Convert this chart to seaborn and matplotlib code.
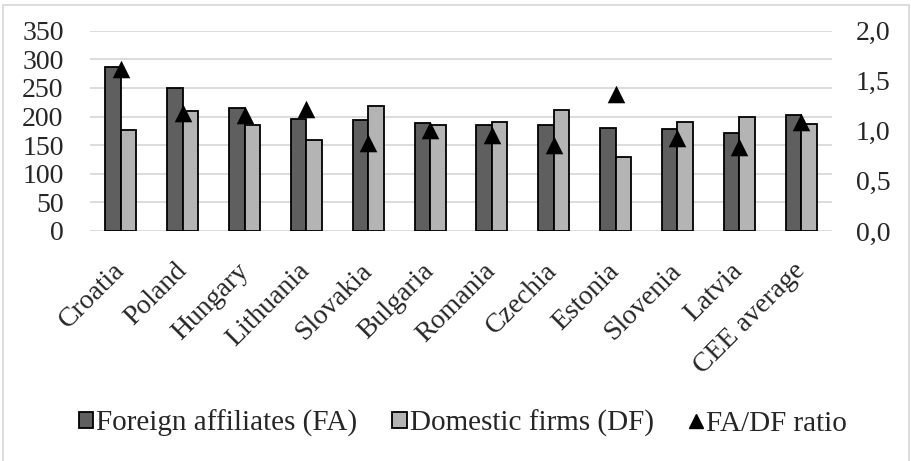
import numpy as np
import pandas as pd
import matplotlib
matplotlib.use("Agg")
import matplotlib.pyplot as plt
import seaborn as sns
from matplotlib.patches import Patch, Rectangle
from matplotlib.lines import Line2D
from matplotlib.ticker import FuncFormatter

countries = ["Croatia", "Poland", "Hungary", "Lithuania", "Slovakia", "Bulgaria",
             "Romania", "Czechia", "Estonia", "Slovenia", "Latvia", "CEE average"]
foreign_affiliates = [287, 249, 215, 196, 194, 188, 185, 185, 180, 178, 171, 203]
domestic_firms = [176, 210, 185, 159, 218, 186, 191, 212, 130, 190, 200, 187]
fa_df_ratio = [1.62, 1.18, 1.16, 1.22, 0.88, 1.01, 0.96, 0.86, 1.37, 0.93, 0.84, 1.09]

series_names = ["Foreign affiliates (FA)", "Domestic firms (DF)"]
ratio_name = "FA/DF ratio"
bar_colors = ["#5f5f5f", "#b4b4b4"]
grid_color = "#d9d9d9"

sns.set_theme(style="white")
plt.rcParams["font.family"] = ["Liberation Serif", "DejaVu Serif"]
plt.rcParams["font.size"] = 20

df = pd.DataFrame({
    "country": countries * 2,
    "value": foreign_affiliates + domestic_firms,
    "series": [series_names[0]] * len(countries) + [series_names[1]] * len(countries),
})

fig = plt.figure(figsize=(9.11, 4.61), dpi=100)
ax = fig.add_axes([0.0988, 0.499, 0.8145, 0.4345])

sns.barplot(data=df, x="country", y="value", hue="series", order=countries,
            hue_order=series_names, palette=bar_colors, width=0.5,
            edgecolor="black", linewidth=1.3, ax=ax, legend=False)

ax.set_ylim(0, 350)
ax.set_yticks(np.arange(0, 351, 50))
ax.yaxis.grid(True, color=grid_color, linewidth=1.3)
ax.set_axisbelow(True)
for s in ax.spines.values():
    s.set_visible(False)
ax.set_xlabel("")
ax.set_ylabel("")
ax.tick_params(axis="y", length=0, pad=19, labelsize=20)
ax.tick_params(axis="x", length=0, pad=26, labelsize=20)
plt.setp(ax.get_xticklabels(), rotation=45, ha="right", va="center",
         rotation_mode="anchor")

ax2 = ax.twinx()
sns.scatterplot(x=np.arange(len(countries)), y=fa_df_ratio, marker="^", s=160,
                color="black", edgecolor="black", linewidth=0, ax=ax2, zorder=5)
ax2.set_ylim(0, 2.0)
ax2.set_yticks(np.arange(0, 2.01, 0.5))
ax2.yaxis.set_major_formatter(FuncFormatter(lambda v, _: f"{v:.1f}".replace(".", ",")))
ax2.tick_params(axis="y", length=0, pad=17, labelsize=20)
ax2.grid(False)
for s in ax2.spines.values():
    s.set_visible(False)
ax.set_xlim(-0.5, len(countries) - 0.5)

handles = [
    Patch(facecolor=bar_colors[0], edgecolor="black", linewidth=1.3),
    Patch(facecolor=bar_colors[1], edgecolor="black", linewidth=1.3),
    Line2D([], [], linestyle="none", marker="^", color="black", markersize=9.5),
]
fig.legend(handles, series_names + [ratio_name], loc="center",
           bbox_to_anchor=(0.508, 0.082), ncol=3, frameon=False, fontsize=21,
           handlelength=0.5, handleheight=0.5, handletextpad=0.1,
           columnspacing=1.2, borderpad=0, borderaxespad=0)

fig.patches.append(Rectangle((3 / 911, -0.01), 906 / 911, 1.0, transform=fig.transFigure,
                             fill=False, edgecolor=grid_color, linewidth=1.3))

fig.savefig("out.png", dpi=100)
